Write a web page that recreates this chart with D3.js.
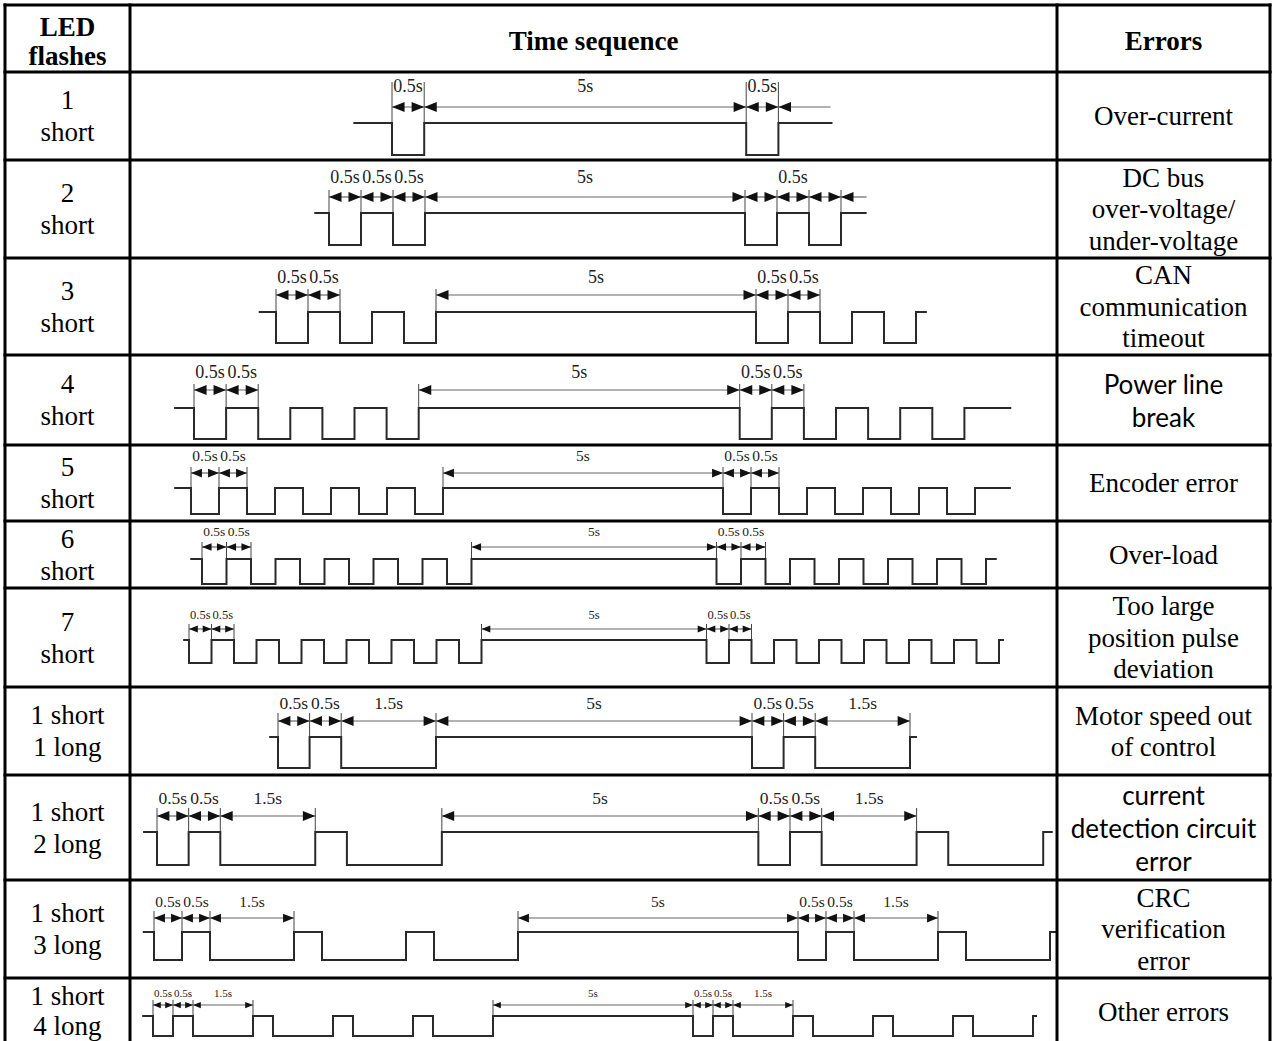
<!DOCTYPE html>
<html><head><meta charset="utf-8">
<script src="https://cdn.jsdelivr.net/npm/d3@7/dist/d3.min.js"></script>
<style>body{margin:0;background:#fff}svg{display:block}</style>
</head><body><svg id="c" width="1272" height="1041"></svg>
<script>
// ---------- DATA ----------
const headers = [["LED","flashes"],["Time sequence"],["Errors"]];
const flashLabels = [["1","short"],["2","short"],["3","short"],["4","short"],["5","short"],["6","short"],["7","short"],
  ["1 short","1 long"],["1 short","2 long"],["1 short","3 long"],["1 short","4 long"]];
const errorLabels = [["Over-current"],["DC bus","over-voltage/","under-voltage"],["CAN","communication","timeout"],
  ["Power line","break"],["Encoder error"],["Over-load"],["Too large","position pulse","deviation"],
  ["Motor speed out","of control"],["current","detection circuit","error"],["CRC","verification","error"],["Other errors"]];
const errorSans = [false,false,false,true,false,false,false,false,true,false,false];

// waveform: alternating durations in seconds, starting with LOW (LED on), ending with LOW
const waveforms = [
  [0.5,5,0.5],
  [0.5,0.5,0.5,5,0.5,0.5,0.5],
  [0.5,0.5,0.5,0.5,0.5,5,0.5,0.5,0.5,0.5,0.5],
  [0.5,0.5,0.5,0.5,0.5,0.5,0.5,5,0.5,0.5,0.5,0.5,0.5,0.5,0.5],
  [0.5,0.5,0.5,0.5,0.5,0.5,0.5,0.5,0.5,5,0.5,0.5,0.5,0.5,0.5,0.5,0.5,0.5,0.5],
  [0.5,0.5,0.5,0.5,0.5,0.5,0.5,0.5,0.5,0.5,0.5,5,0.5,0.5,0.5,0.5,0.5,0.5,0.5,0.5,0.5,0.5,0.5],
  [0.5,0.5,0.5,0.5,0.5,0.5,0.5,0.5,0.5,0.5,0.5,0.5,0.5,5,0.5,0.5,0.5,0.5,0.5,0.5,0.5,0.5,0.5,0.5,0.5,0.5,0.5],
  [0.5,0.5,1.5,5,0.5,0.5,1.5],
  [0.5,0.5,1.5,0.5,1.5,5,0.5,0.5,1.5,0.5,1.5],
  [0.5,0.5,1.5,0.5,1.5,0.5,1.5,5,0.5,0.5,1.5,0.5,1.5],
  [0.5,0.5,1.5,0.5,1.5,0.5,1.5,0.5,1.5,5,0.5,0.5,1.5,0.5,1.5,0.5,1.5,0.5,1.5]
];
const leads = [0.6,0.23,0.27,0.31,0.3,0.24,0.13,0.14,0.22,0.2,0.27];
const tails = [0.84,0.4,0.17,0.73,0.64,0.22,0.11,0.11,0.15,0.14,0.1];

// dimension annotations [start s, end s, label]
const dims = [
  [[0,0.5,"0.5s"],[0.5,5.5,"5s"],[5.5,6,"0.5s"]],
  [[0,0.5,"0.5s"],[0.5,1,"0.5s"],[1,1.5,"0.5s"],[1.5,6.5,"5s"],[6.5,7,""],[7,7.5,"0.5s"],[7.5,8,""]],
  [[0,0.5,"0.5s"],[0.5,1,"0.5s"],[2.5,7.5,"5s"],[7.5,8,"0.5s"],[8,8.5,"0.5s"]],
  [[0,0.5,"0.5s"],[0.5,1,"0.5s"],[3.5,8.5,"5s"],[8.5,9,"0.5s"],[9,9.5,"0.5s"]],
  [[0,0.5,"0.5s"],[0.5,1,"0.5s"],[4.5,9.5,"5s"],[9.5,10,"0.5s"],[10,10.5,"0.5s"]],
  [[0,0.5,"0.5s"],[0.5,1,"0.5s"],[5.5,10.5,"5s"],[10.5,11,"0.5s"],[11,11.5,"0.5s"]],
  [[0,0.5,"0.5s"],[0.5,1,"0.5s"],[6.5,11.5,"5s"],[11.5,12,"0.5s"],[12,12.5,"0.5s"]],
  [[0,0.5,"0.5s"],[0.5,1,"0.5s"],[1,2.5,"1.5s"],[2.5,7.5,"5s"],[7.5,8,"0.5s"],[8,8.5,"0.5s"],[8.5,10,"1.5s"]],
  [[0,0.5,"0.5s"],[0.5,1,"0.5s"],[1,2.5,"1.5s"],[4.5,9.5,"5s"],[9.5,10,"0.5s"],[10,10.5,"0.5s"],[10.5,12,"1.5s"]],
  [[0,0.5,"0.5s"],[0.5,1,"0.5s"],[1,2.5,"1.5s"],[6.5,11.5,"5s"],[11.5,12,"0.5s"],[12,12.5,"0.5s"],[12.5,14,"1.5s"]],
  [[0,0.5,"0.5s"],[0.5,1,"0.5s"],[1,2.5,"1.5s"],[8.5,13.5,"5s"],[13.5,14,"0.5s"],[14,14.5,"0.5s"],[14.5,16,"1.5s"]]
];
// truncated (one-headed) dimension arrows [start s, end s]
const tailArrows = [[6,6.81],[8,8.4],null,null,null,null,null,null,null,null,null];

// ---------- LAYOUT ----------
const rowEdges = [5,72,160,258,355,445,521,588,687,775,880,978,1046];
const colEdges = [5,130,1057,1270];
const layout = [
  {x0:392,pps:64.4,hi:123,lo:155,ar:107,lb:92,fs:18,ext:82},
  {x0:329,pps:64,hi:213,lo:245,ar:197,lb:183,fs:18,ext:190},
  {x0:276,pps:64,hi:312,lo:343,ar:295,lb:283,fs:18,ext:289},
  {x0:194,pps:64.2,hi:408,lo:439,ar:390,lb:378,fs:18,ext:384},
  {x0:191,pps:56,hi:488,lo:514,ar:473,lb:461,fs:15.5,ext:467},
  {x0:202,pps:49,hi:559,lo:584,ar:547,lb:536,fs:13.5,ext:542},
  {x0:189,pps:45,hi:640,lo:663,ar:629,lb:619,fs:12.5,ext:624},
  {x0:278,pps:63.2,hi:737,lo:768,ar:721,lb:709,fs:17.5,ext:713},
  {x0:157,pps:63.3,hi:832,lo:865,ar:816,lb:804,fs:17.5,ext:808},
  {x0:154,pps:56,hi:932,lo:960,ar:918,lb:907,fs:15.5,ext:911},
  {x0:153,pps:40,hi:1016,lo:1036,ar:1005,lb:997,fs:11,ext:1000}
];
const SERIF = "'Liberation Serif','Times New Roman',serif";
const SANS = "Lato,'Noto Sans',sans-serif";

// ---------- DRAW ----------
const svg = d3.select("#c");
svg.append("rect").attr("width",1272).attr("height",1041).attr("fill","#fff");

function multiText(g, lines, cx, cy, fs, lh, off, family, weight){
  const n = lines.length;
  lines.forEach((s,i)=>{
    g.append("text").attr("x",cx).attr("y",cy+(i-(n-1)/2)*lh+off)
      .attr("text-anchor","middle").attr("font-family",family).attr("font-size",fs)
      .attr("font-weight",weight||"normal").attr("fill","#000").text(s);
  });
}

const tg = svg.append("g");
const colC = [0,1,2].map(i=>(colEdges[i]+colEdges[i+1])/2);
// header
multiText(tg, headers[0], colC[0], 38.5, 27, 29, 12, SERIF, "bold");
multiText(tg, headers[1], colC[1], 38.5, 27, 29, 11.5, SERIF, "bold");
multiText(tg, headers[2], colC[2], 38.5, 27, 29, 11.5, SERIF, "bold");

flashLabels.forEach((lines,i)=>{
  const cy=(rowEdges[i+1]+rowEdges[i+2])/2;
  const last = i===flashLabels.length-1;
  multiText(tg, lines, colC[0], last ? cy-1.5 : cy, 27, last ? 30.5 : 32, 9.3, SERIF);
});
errorLabels.forEach((lines,i)=>{
  const cy=(rowEdges[i+1]+rowEdges[i+2])/2;
  if(errorSans[i]) multiText(tg, lines, colC[2], cy, 26, 33, 10.5, SANS);
  else multiText(tg, lines, colC[2], cy, 27, 31.5, 9.3, SERIF);
});

// waveforms & dimensions
const lineGen = d3.line();
waveforms.forEach((segs,i)=>{
  const L = layout[i], k = L.pps/64;
  const x = d3.scaleLinear().domain([0,1]).range([L.x0, L.x0+L.pps]);
  const y = d3.scaleLinear().domain([0,1]).range([L.lo, L.hi]);
  const g = svg.append("g");
  // extension lines
  const bounds = Array.from(new Set(dims[i].flatMap(d=>[d[0],d[1]])));
  bounds.forEach(b=>{
    g.append("line").attr("x1",x(b)).attr("x2",x(b)).attr("y1",L.ext).attr("y2",y(1))
      .attr("stroke","#444").attr("stroke-width",1);
  });
  // waveform
  const pts=[[x(-leads[i]),y(1)],[x(0),y(1)]];
  let t=0;
  segs.forEach((d,j)=>{ const v=j%2===0?0:1; pts.push([x(t),y(v)]); t+=d; pts.push([x(t),y(v)]); });
  pts.push([x(t),y(1)]); pts.push([x(t+tails[i]),y(1)]);
  g.append("path").attr("d",lineGen(pts)).attr("fill","none").attr("stroke","#2a2a2a").attr("stroke-width",2);
  // arrows
  const hl=12.5*k, hw=5*k;
  const head=(tip,dir)=>lineGen([[tip,L.ar],[tip+dir*hl,L.ar-hw],[tip+dir*hl,L.ar+hw]])+"Z";
  dims[i].forEach(d=>{
    const a=x(d[0]), b=x(d[1]);
    g.append("line").attr("x1",a).attr("x2",b).attr("y1",L.ar).attr("y2",L.ar).attr("stroke","#666").attr("stroke-width",1.2);
    g.append("path").attr("d",head(a,1)).attr("fill","#111");
    g.append("path").attr("d",head(b,-1)).attr("fill","#111");
    if(d[2]) g.append("text").attr("x",(a+b)/2).attr("y",L.lb).attr("text-anchor","middle")
      .attr("font-family",SERIF).attr("font-size",L.fs).attr("fill","#222").text(d[2]);
  });
  if(tailArrows[i]){
    const a=x(tailArrows[i][0]), b=x(tailArrows[i][1]);
    g.append("line").attr("x1",a).attr("x2",b).attr("y1",L.ar).attr("y2",L.ar).attr("stroke","#666").attr("stroke-width",1.2);
    g.append("path").attr("d",head(a,1)).attr("fill","#111");
  }
});

// table borders
const bg = svg.append("g").attr("stroke","#000").attr("stroke-width",3).attr("stroke-linecap","square");
rowEdges.forEach(yv=>bg.append("line").attr("x1",colEdges[0]).attr("x2",colEdges[3]).attr("y1",yv).attr("y2",yv));
colEdges.forEach(xv=>bg.append("line").attr("x1",xv).attr("x2",xv).attr("y1",rowEdges[0]).attr("y2",rowEdges[rowEdges.length-1]));
</script></body></html>
